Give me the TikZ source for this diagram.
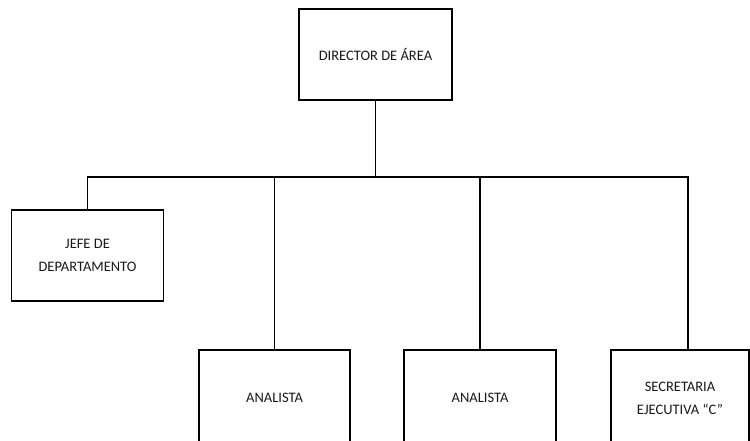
\documentclass[tikz,border=0pt]{standalone}
\usepackage{fontspec}
\setmainfont{Carlito}
\begin{document}
\begin{tikzpicture}[x=1pt,y=-1pt,
  orgbox/.style={draw=black,line width=1.5pt,fill=white,inner sep=0pt,align=center,
    font=\fontsize{14.5}{23}\selectfont,text=black!90},
  conn/.style={draw=black,line width=1.5pt}]
\useasboundingbox (0,0) rectangle (750,441);
\clip (0,0) rectangle (750,441);
\node[orgbox,minimum width=153pt,minimum height=91pt] (dir) at (375.5,54.5) {DIRECTOR DE ÁREA};
\node[orgbox,minimum width=152pt,minimum height=91pt] (jefe) at (87.5,255.5) {JEFE DE\\DEPARTAMENTO};
\node[orgbox,minimum width=151pt,minimum height=96pt] (an1) at (274.5,398) {ANALISTA};
\node[orgbox,minimum width=152pt,minimum height=96pt] (an2) at (480,398) {ANALISTA};
\node[orgbox,minimum width=138pt,minimum height=96pt] (sec) at (680,398) {SECRETARIA\\EJECUTIVA “C”};
\coordinate (bus) at (375,177);
\coordinate (sectop) at (688,350);
\draw[conn] (dir.south) -- (dir.south |- bus);
\draw[conn] (jefe.north) -- (jefe.north |- bus) -- (sectop |- bus) -- (sectop);
\draw[conn] (an1.north) -- (an1.north |- bus);
\draw[conn] (an2.north) -- (an2.north |- bus);
\end{tikzpicture}
\end{document}
